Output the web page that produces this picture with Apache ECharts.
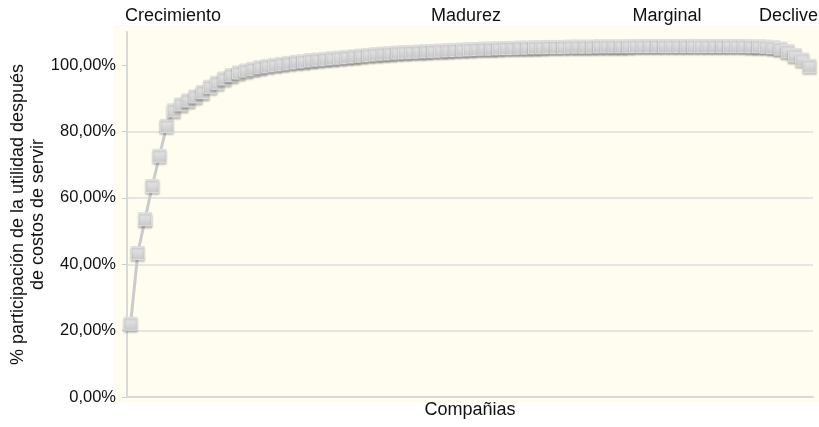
<!DOCTYPE html>
<html>
<head>
<meta charset="utf-8">
<script src="https://cdn.jsdelivr.net/npm/echarts@6/dist/echarts.min.js"></script>
<style>
html,body{margin:0;padding:0;background:#fff;}
#c{width:819px;height:427px;}
</style>
</head>
<body>
<div id="c"></div>
<script>
// % participation values, one per company
const values = [
  22.1, 43.4, 53.6, 63.6, 72.7, 81.7, 86.4, 88.2, 89.4, 90.6,
  91.9, 93.5, 94.7, 96.0, 97.0, 97.8, 98.4, 98.9, 99.4, 99.8,
  100.1, 100.4, 100.7, 101.0, 101.2, 101.5, 101.7, 101.9, 102.1, 102.3,
  102.5, 102.7, 102.9, 103.1, 103.3, 103.5, 103.6, 103.8, 103.9, 104.0,
  104.1, 104.2, 104.3, 104.4, 104.5, 104.6, 104.7, 104.8, 104.9, 105.0,
  105.0, 105.1, 105.2, 105.2, 105.3, 105.3, 105.4, 105.4, 105.5, 105.5,
  105.5, 105.6, 105.6, 105.6, 105.6, 105.7, 105.7, 105.7, 105.7, 105.7,
  105.8, 105.8, 105.8, 105.8, 105.8, 105.8, 105.8, 105.8, 105.8, 105.8,
  105.8, 105.8, 105.8, 105.8, 105.8, 105.8, 105.7, 105.7, 105.6, 105.4,
  105.0, 104.2, 103.0, 101.7, 99.8
];
// companies (unlabelled categories)
const companies = values.map((_, i) => 'C' + (i + 1));
const yTicks = [0, 20, 40, 60, 80, 100];
const stageLabels = ['Crecimiento', 'Madurez', 'Marginal', 'Declive'];
const xTitle = 'Compañias';
const yTitle = '% participación de la utilidad después\nde costos de servir';

const font = 'Liberation Sans, Arial, Helvetica, sans-serif';
const chart = echarts.init(document.getElementById('c'), null, {renderer: 'canvas'});
chart.setOption({
  animation: false,
  backgroundColor: '#ffffff',
  graphic: [
    {type: 'rect', z: -10, shape: {x: 113, y: 25, width: 706, height: 378}, style: {fill: '#fefdef'}},
    {type: 'text', left: 125, top: 7, style: {text: stageLabels[0], font: '18px ' + font, fill: '#111'}},
    {type: 'text', x: 466, y: 7, style: {text: stageLabels[1], font: '18px ' + font, fill: '#111', align: 'center'}},
    {type: 'text', x: 667, y: 7, style: {text: stageLabels[2], font: '18px ' + font, fill: '#111', align: 'center'}},
    {type: 'text', x: 818, y: 7, style: {text: stageLabels[3], font: '18px ' + font, fill: '#111', align: 'right'}}
  ],
  grid: {left: 127, right: 6, top: 32, bottom: 30, containLabel: false, outerBoundsMode: 'none'},
  xAxis: {
    type: 'category',
    data: companies,
    boundaryGap: true,
    axisLine: {show: true, lineStyle: {color: '#d9d9d9', width: 2}},
    axisTick: {show: false},
    axisLabel: {show: false},
    splitLine: {show: false},
    name: xTitle,
    nameLocation: 'middle',
    nameGap: 4,
    nameMoveOverlap: false,
    nameTextStyle: {fontSize: 18, fontFamily: font, color: '#111', verticalAlign: 'top'}
  },
  yAxis: {
    type: 'value',
    min: 0,
    max: 110,
    interval: 20,
    axisLine: {show: true, lineStyle: {color: '#d9d9d9', width: 2}},
    axisTick: {show: true, length: 5, customValues: yTicks, lineStyle: {color: '#cccccc'}},
    axisLabel: {
      customValues: yTicks,
      fontSize: 16.5, fontFamily: font, color: '#111', margin: 11,
      formatter: v => v.toFixed(2).replace('.', ',') + '%'
    },
    splitLine: {show: true, showMaxLine: false, lineStyle: {color: '#dddddd', width: 1.5}},
    name: yTitle,
    nameLocation: 'middle',
    nameGap: 79,
    nameRotate: 90,
    nameMoveOverlap: false,
    nameTextStyle: {fontSize: 18, fontFamily: font, color: '#111', lineHeight: 20, align: 'center'}
  },
  series: [{
    type: 'line',
    data: values,
    symbol: 'rect',
    symbolSize: 13,
    showAllSymbol: true,
    lineStyle: {color: '#cbcbcb', width: 3},
    itemStyle: {
      color: new echarts.graphic.LinearGradient(0, 0, 0, 1, [
        {offset: 0, color: '#ebebeb'},
        {offset: 1, color: '#c8c8c8'}
      ]),
      borderColor: '#dedede',
      borderWidth: 1,
      shadowColor: 'rgba(0,0,0,0.22)',
      shadowBlur: 2,
      shadowOffsetY: 2
    },
    emphasis: {disabled: true}
  }]
});
</script>
</body>
</html>
